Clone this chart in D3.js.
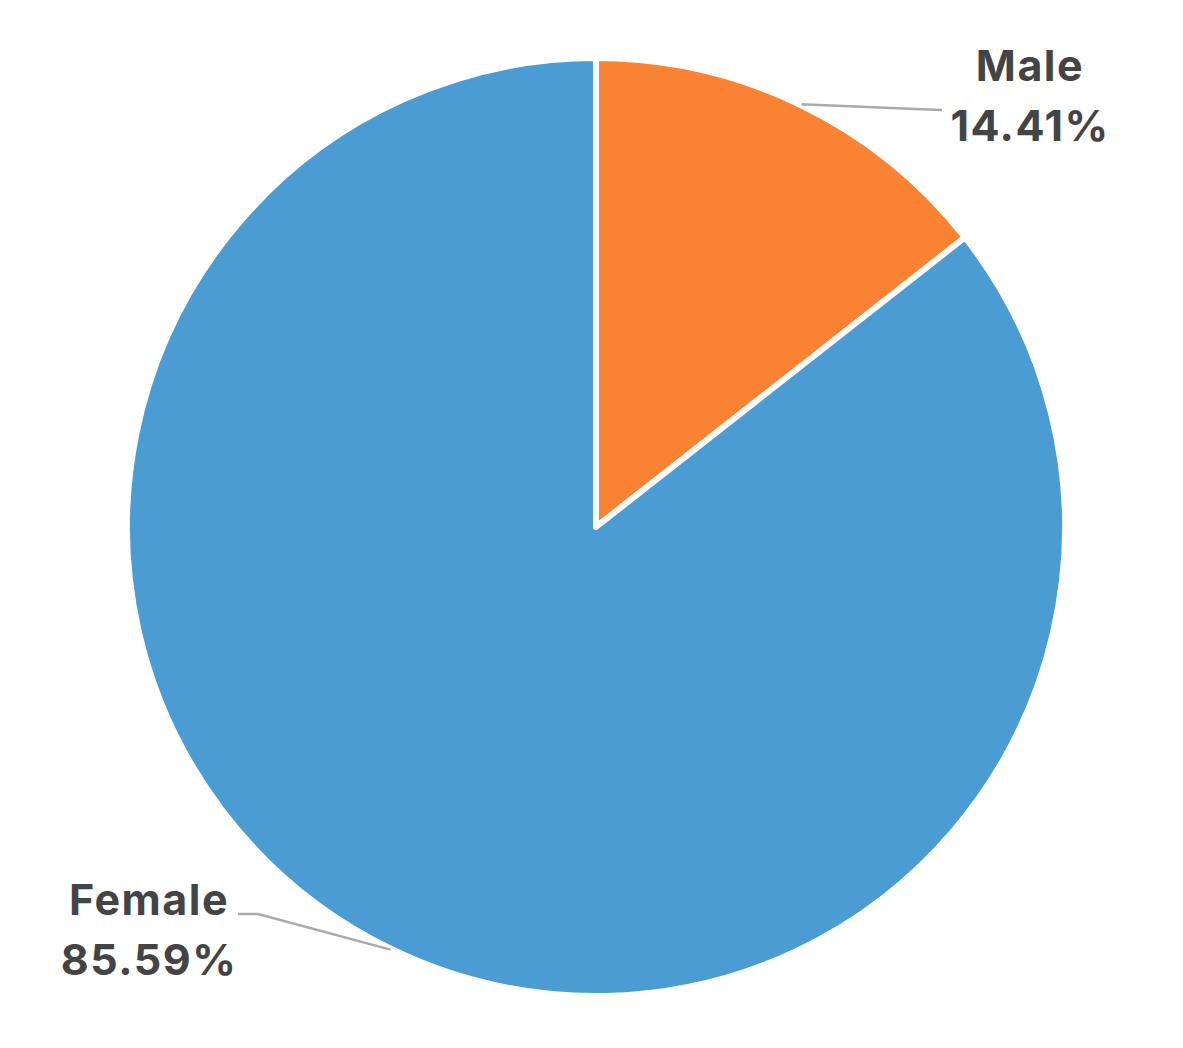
<!DOCTYPE html>
<html><head><meta charset="utf-8">
<script src="https://cdn.jsdelivr.net/npm/d3@7"></script>
<style>body{margin:0;background:#fff;} svg{display:block;}</style>
</head><body>
<svg id="c" width="1183" height="1048"></svg>
<script>
const categories = ["Male", "Female"];
const values = [14.41, 85.59];
const colors = ["#f98233", "#4b9cd3"];

const svg = d3.select("#c");
const cx = 596, cy = 527, R = 469;
const g = svg.append("g").attr("transform", `translate(${cx},${cy})`);
const data = categories.map((c, i) => ({name: c, value: values[i]}));
const pie = d3.pie().sort(null).value(d => d.value);
const arcs = pie(data);
const arc = d3.arc().innerRadius(0).outerRadius(R);
g.selectAll("path.slice").data(arcs).join("path")
  .attr("class", "slice")
  .attr("d", arc)
  .attr("fill", (d, i) => colors[i])
  .attr("stroke", "#fff").attr("stroke-width", 6).attr("stroke-linejoin", "round");

// label layout
const layout = {
  Male:   {elbow: [915, 109], end: [942, 110], tx: 1030, ty: 81},
  Female: {elbow: [258, 914], end: [238, 914], tx: 149, ty: 915}
};
arcs.forEach(a => {
  const L = layout[a.data.name];
  const mid = (a.startAngle + a.endAngle) / 2;
  const sx = cx + (R + 1) * Math.sin(mid), sy = cy - (R + 1) * Math.cos(mid);
  svg.append("polyline")
    .attr("points", [[sx, sy], L.elbow, L.end].map(p => p.join(",")).join(" "))
    .attr("fill", "none").attr("stroke", "#aaaaaa").attr("stroke-width", 2.5);
  const t = svg.append("text").attr("x", L.tx).attr("y", L.ty)
    .attr("text-anchor", "middle")
    .attr("font-family", "Inter, sans-serif").attr("font-weight", 700)
    .attr("font-size", 43).attr("letter-spacing", 1.5).attr("fill", "#444444");
  t.append("tspan").attr("x", L.tx).text(a.data.name);
  t.append("tspan").attr("x", L.tx).attr("dy", 60).text(a.data.value.toFixed(2) + "%");
});
</script>
</body></html>
